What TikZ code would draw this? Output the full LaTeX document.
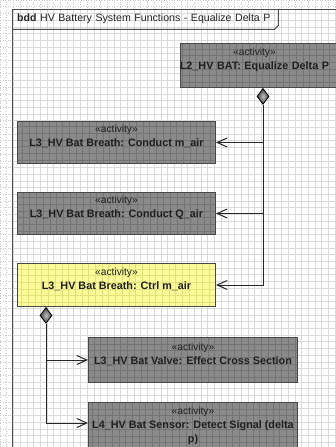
\documentclass[tikz,border=0pt]{standalone}
\usepackage{fontspec}
\setmainfont{Liberation Sans}
\usetikzlibrary{arrows.meta,positioning,calc,shapes.geometric}
\definecolor{boxgray}{HTML}{8A8A8A}
\definecolor{boxlines}{HTML}{747474}
\definecolor{boxedge}{HTML}{474747}
\definecolor{boxhi}{HTML}{C4C4C4}
\definecolor{ctrlyellow}{HTML}{FBFB98}
\definecolor{ctrllines}{HTML}{E2E27C}
\definecolor{gridin}{HTML}{DADADA}
\definecolor{gridout}{HTML}{C8C8C8}
\tikzset{
  actbox/.style={draw=boxedge, line width=1pt, fill=boxgray, align=center, inner sep=2pt, text=black!88, font=\fontsize{10.8}{14}\selectfont,
    path picture={
      \draw[boxlines, line width=0.9pt, step=6.7pt] (path picture bounding box.south west) grid (path picture bounding box.north east);
      \draw[boxhi, line width=1.4pt] (path picture bounding box.south west) -- (path picture bounding box.north west) -- (path picture bounding box.north east);
    }},
  ctrlbox/.style={actbox, fill=ctrlyellow,
    path picture={
      \draw[ctrllines, line width=0.9pt, step=6.7pt] (path picture bounding box.south west) grid (path picture bounding box.north east);
      \draw[white, line width=1.4pt] (path picture bounding box.south west) -- (path picture bounding box.north west) -- (path picture bounding box.north east);
    }},
  titletab/.style={anchor=north west, inner ysep=0pt, inner xsep=5pt, text width=256pt, align=left, minimum height=20pt, font=\fontsize{10.6}{12}\selectfont, text=black!85},
  agg/.style={diamond, draw=black, line width=0.8pt, inner color=black!25, outer color=black!75, minimum width=12pt, minimum height=16pt, inner sep=0pt, anchor=north},
  assoc/.style={-{Straight Barb[length=10pt,width=9pt]}, line width=1pt, draw=black!85},
  framestyle/.style={draw=black!70, line width=1pt}
}
\newcommand{\stereo}{{\fontsize{10.2}{14}\selectfont«activity»}}
\newcommand{\lowstrut}{\rule[-13pt]{0pt}{13pt}}
\newcommand{\act}[1]{\stereo\\\textbf{#1}\lowstrut}

\begin{document}
\begin{tikzpicture}[x=1pt, y=-1pt]
\clip (0,447) rectangle (336,0);
% drawing sheet with grid
\fill[white] (0,447) rectangle (336,0);
\draw[gridout, dotted, line width=0.6pt, step=6.7pt] (0,447) grid (336,0);
\fill[white] (12,450) rectangle (340,9);
\draw[gridin, line width=0.6pt, step=6.7pt] (12,450) grid (340,9);
\draw[framestyle] (12,450) -- (12,9) -- (340,9);
\node[titletab] (title) at (12,9) {\textbf{bdd} HV Battery System Functions - Equalize Delta P};
\draw[framestyle] (title.south west) -- ([xshift=-4pt]title.south east) -- ([yshift=4pt]title.south east) -- (title.north east);

% activities
\node[actbox, anchor=north west, text width=166pt, minimum height=44pt] (l2) at (180,43) {\hspace*{-22pt}\stereo\\\hspace*{-22pt}\textbf{L2\_HV BAT: Equalize Delta P}\lowstrut};
\node[actbox, anchor=north west, minimum width=198pt, minimum height=42pt] (m1) at (17,121) {\act{L3\_HV Bat Breath: Conduct m\_air}};
\node[actbox, minimum width=198pt, minimum height=42pt, below=28pt of m1.south west, anchor=north west] (m2) {\act{L3\_HV Bat Breath: Conduct Q\_air}};
\node[ctrlbox, minimum width=198pt, minimum height=43pt, below=28pt of m2.south west, anchor=north west] (ctrl) {\act{L3\_HV Bat Breath: Ctrl m\_air}};
\node[actbox, anchor=north west, minimum width=209pt, minimum height=45pt] (valve) at (88,337) {\act{L3\_HV Bat Valve: Effect Cross Section}};
\node[actbox, minimum width=209pt, minimum height=58pt, below=19pt of valve.south west, anchor=north west] (sensor) {\stereo\\\textbf{L4\_HV Bat Sensor: Detect Signal (delta}\\\textbf{p)}\lowstrut};

% composition
\node[agg] (d1) at ([xshift=83pt]l2.south west) {};
\node[agg] (d2) at ([xshift=29pt]ctrl.south west) {};
\draw[assoc] (d1.south) |- (m1.east);
\draw[assoc] (d1.south) |- (m2.east);
\draw[assoc] (d1.south) |- (ctrl.east);
\draw[assoc] (d2.south) |- (valve.west);
\draw[assoc] (d2.south) |- ([yshift=-21pt]sensor.north west);
\end{tikzpicture}
\end{document}
